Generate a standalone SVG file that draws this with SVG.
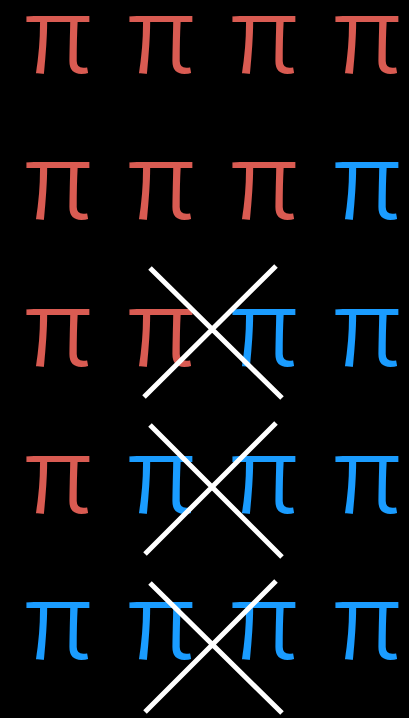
<svg xmlns="http://www.w3.org/2000/svg" width="409" height="718" viewBox="0 0 409 718">
<style>
.p{font-family:"Noto Sans CJK JP","Noto Sans CJK SC",sans-serif;font-size:108px;font-weight:400;text-anchor:middle;stroke:#000000;stroke-width:2}
.r{fill:#d95b52}
.b{fill:#1a9cff}
.x{stroke:#ffffff;stroke-width:5;stroke-linecap:butt}
</style>
<rect width="409" height="718" fill="#000000"/>
<g id="row1">
<text class="p r" x="58" y="74">π</text><text class="p r" x="161" y="74">π</text><text class="p r" x="264" y="74">π</text><text class="p r" x="367" y="74">π</text>
</g>
<g id="row2">
<text class="p r" x="58" y="220">π</text><text class="p r" x="161" y="220">π</text><text class="p r" x="264" y="220">π</text><text class="p b" x="367" y="220">π</text>
</g>
<g id="row3">
<text class="p r" x="58" y="367">π</text><text class="p r" x="161" y="367">π</text><text class="p b" x="264" y="367">π</text><text class="p b" x="367" y="367">π</text>
</g>
<g id="row4">
<text class="p r" x="58" y="514">π</text><text class="p b" x="161" y="514">π</text><text class="p b" x="264" y="514">π</text><text class="p b" x="367" y="514">π</text>
</g>
<g id="row5">
<text class="p b" x="58" y="660">π</text><text class="p b" x="161" y="660">π</text><text class="p b" x="264" y="660">π</text><text class="p b" x="367" y="660">π</text>
</g>
<g id="crosses">
<path class="x" d="M150 268L282 398M276 266L144 397"/>
<path class="x" d="M150 425L282 557M276 423L145 554"/>
<path class="x" d="M150 583L282 713M276 581L145 712"/>
</g>
</svg>
